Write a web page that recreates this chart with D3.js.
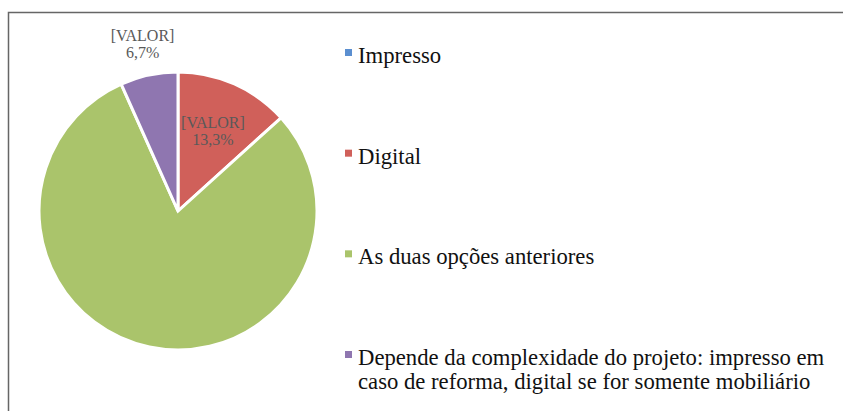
<!DOCTYPE html>
<html>
<head>
<meta charset="UTF-8">
<title>Pie chart</title>
<script src="https://d3js.org/d3.v7.min.js"></script>
<style>
  body, html { margin: 0; padding: 0; overflow: hidden; background: #fff; }
  svg { display: block; }
</style>
</head>
<body>
<svg width="843" height="411"></svg>
<script>
// data
const categories = [
  "Impresso",
  "Digital",
  "As duas opções anteriores",
  "Depende da complexidade do projeto: impresso em|caso de reforma, digital se for somente mobiliário"
];
const values = [0, 13.3, 80, 6.7];
const colors = ["#5b8fd0", "#d0605a", "#aac46b", "#8f76b0"];

const svg = d3.select("svg").style("font-family", "'Liberation Serif', 'Times New Roman', serif");

// frame
svg.append("rect")
  .attr("x", 8.5).attr("y", 12.5)
  .attr("width", 860).attr("height", 420)
  .attr("fill", "none")
  .attr("stroke", "#666")
  .attr("stroke-width", 1.5);

const cx = 178, cy = 211, r = 139;
const g = svg.append("g").attr("transform", `translate(${cx},${cy})`);

const pie = d3.pie().sort(null).value(d => d.v);
const data = categories.map((c, i) => ({ c, v: values[i], col: colors[i] }));
const arcs = pie(data);

const arc = d3.arc().innerRadius(0).outerRadius(r);
g.selectAll("path")
  .data(arcs.filter(d => d.data.v > 0))
  .enter().append("path")
  .attr("d", arc)
  .attr("fill", d => d.data.col)
  .attr("stroke", "#fff")
  .attr("stroke-width", 3)
  .attr("stroke-linejoin", "miter");

// data labels
const fmt = v => d3.format(".1f")(v).replace(".", ",") + "%";
const inArc = d3.arc().innerRadius(r * 0.62).outerRadius(r * 0.62);
const outArc = d3.arc().innerRadius(r * 1.22).outerRadius(r * 1.22);
arcs.filter(d => d.data.v > 0 && d.data.v < 50).forEach(d => {
  const small = d.data.v < 10;
  const [x, y] = (small ? outArc : inArc).centroid(d);
  const t = g.append("text")
    .attr("text-anchor", "middle")
    .style("font-size", "16px")
    .attr("fill", "#595959");
  t.append("tspan").attr("x", x).attr("y", y - 4).text("[VALOR]");
  t.append("tspan").attr("x", x).attr("y", y + 13).text(fmt(d.data.v));
});

// legend
const ly = d3.scaleLinear().domain([0, 3]).range([52.5, 354.5]);
const leg = svg.selectAll("g.leg")
  .data(data)
  .enter().append("g")
  .attr("class", "leg")
  .attr("transform", (d, i) => `translate(345,${ly(i)})`);
leg.append("rect")
  .attr("x", 0).attr("y", -3.5)
  .attr("width", 7).attr("height", 7)
  .attr("fill", d => d.col);
leg.append("text")
  .style("font-size", "22.7px")
  .attr("fill", "#111")
  .each(function(d) {
    const lines = d.c.split("|");
    const t = d3.select(this);
    lines.forEach((l, k) => {
      t.append("tspan").attr("x", 13).attr("y", 10.5 + k * 24).text(l);
    });
  });
</script>
</body>
</html>
